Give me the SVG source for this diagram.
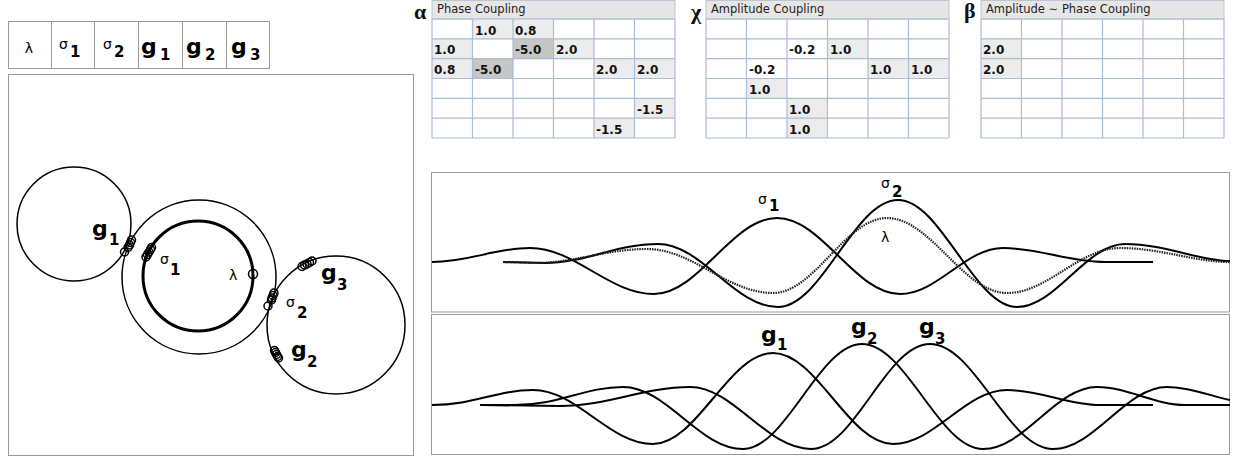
<svg xmlns="http://www.w3.org/2000/svg" width="1233" height="456" viewBox="0 0 1233 456">
<style>
.frame{fill:none;stroke:#999;stroke-width:1}
.lcell{fill:#fff;stroke:#999;stroke-width:1}
.hdr{fill:#e6e6e6;stroke:#bcc6d2;stroke-width:1}
.grid{stroke:#a9bdd6;stroke-width:1.2;fill:none}
.lt{fill:#ececec}
.dk{fill:#c6c6c6}
.ht{font-family:"DejaVu Sans",Verdana,sans-serif;font-size:11.5px;fill:#222}
.cv{font-family:"DejaVu Sans",Verdana,sans-serif;font-size:12px;font-weight:bold;fill:#111}
.gk{font-family:"Liberation Serif","Times New Roman",serif;font-size:22px;font-weight:bold;fill:#111}
.sg{font-family:"DejaVu Sans",Verdana,sans-serif;font-size:14px;fill:#000}
.lam{font-family:"DejaVu Sans",Verdana,sans-serif;font-size:14px;fill:#000}
.sub{font-family:"DejaVu Sans",Verdana,sans-serif;font-size:15px;font-weight:bold;fill:#000}
.gg{font-family:"DejaVu Sans",Verdana,sans-serif;font-size:22px;font-weight:bold;fill:#000}
.circ{fill:none;stroke:#000;stroke-width:1.5}
.thick{fill:none;stroke:#000;stroke-width:3}
.mk{fill:none;stroke:#000;stroke-width:1.5}
.wave{fill:none;stroke:#000;stroke-width:2}
.dot{fill:none;stroke:#222;stroke-width:2.2;stroke-dasharray:1.5 1}
</style>
<rect width="1233" height="456" fill="#fff"/>

<!-- legend cells -->
<g id="legend">
<rect class="lcell" x="8.5" y="21.5" width="43" height="47"/>
<rect class="lcell" x="51.5" y="21.5" width="43" height="47"/>
<rect class="lcell" x="94.5" y="21.5" width="44" height="47"/>
<rect class="lcell" x="138.5" y="21.5" width="44" height="47"/>
<rect class="lcell" x="182.5" y="21.5" width="44" height="47"/>
<rect class="lcell" x="226.5" y="21.5" width="43" height="47"/>
<text class="lam" x="29" y="53" text-anchor="middle" font-size="17">λ</text>
<text class="sg" x="59" y="49" font-size="15">σ</text><text class="sub" x="70" y="57" font-size="18">1</text>
<text class="sg" x="103" y="49" font-size="15">σ</text><text class="sub" x="114" y="57" font-size="18">2</text>
<text class="gg" x="141" y="54" font-size="27">g</text><text class="sub" x="160" y="60" font-size="16">1</text>
<text class="gg" x="186" y="54" font-size="27">g</text><text class="sub" x="205" y="60" font-size="16">2</text>
<text class="gg" x="231" y="54" font-size="27">g</text><text class="sub" x="250" y="60" font-size="16">3</text>
</g>

<!-- left panel -->
<g id="phase-panel">
<rect class="frame" x="8.5" y="74.5" width="405" height="381"/>
<g id="circle-g1"><circle class="circ" cx="74" cy="224" r="57"/></g>
<g id="circle-outer"><circle class="circ" cx="199" cy="277" r="77"/></g>
<g id="circle-inner"><circle class="thick" cx="198" cy="276" r="55"/></g>
<g id="circle-g23"><circle class="circ" cx="336" cy="325" r="69"/></g>
<g id="markers">
<circle class="mk" cx="131.5" cy="240" r="4"/><circle class="mk" cx="130.5" cy="242.5" r="4"/><circle class="mk" cx="129.5" cy="245" r="4"/><circle class="mk" cx="128" cy="247.5" r="4"/><circle class="mk" cx="124.5" cy="252" r="4"/>
<circle class="mk" cx="151.5" cy="247.5" r="4"/><circle class="mk" cx="150.5" cy="249.5" r="4"/><circle class="mk" cx="149" cy="252" r="4"/><circle class="mk" cx="147.5" cy="254.5" r="4"/><circle class="mk" cx="146" cy="257" r="4"/>
<circle class="mk" cx="253" cy="274" r="4.5"/>
<circle class="mk" cx="274" cy="293" r="4"/><circle class="mk" cx="273" cy="295.5" r="4"/><circle class="mk" cx="272" cy="298" r="4"/><circle class="mk" cx="271.5" cy="300" r="4"/><circle class="mk" cx="268" cy="306" r="4"/>
<circle class="mk" cx="302" cy="266.5" r="4"/><circle class="mk" cx="304.5" cy="265" r="4"/><circle class="mk" cx="307" cy="264" r="4"/><circle class="mk" cx="309.5" cy="262.5" r="4"/><circle class="mk" cx="312" cy="261" r="4"/>
<circle class="mk" cx="274.5" cy="350.5" r="4"/><circle class="mk" cx="275.5" cy="352.5" r="4"/><circle class="mk" cx="276.5" cy="354.5" r="4"/><circle class="mk" cx="277.5" cy="356.5" r="4"/><circle class="mk" cx="278.5" cy="358" r="4"/>
</g>
<text class="gg" x="92" y="236">g</text><text class="sub" x="109" y="245">1</text>
<text class="sg" x="160" y="264">σ</text><text class="sub" x="170" y="275">1</text>
<text class="lam" x="229" y="280">λ</text>
<text class="sg" x="286" y="307">σ</text><text class="sub" x="297" y="318">2</text>
<text class="gg" x="321" y="280">g</text><text class="sub" x="337" y="290">3</text>
<text class="gg" x="291" y="357">g</text><text class="sub" x="307" y="367">2</text>
</g>

<!-- tables -->
<g id="table-phase">
<text class="gk" x="414" y="19">α</text>
<rect class="hdr" x="432" y="0.5" width="243" height="18.5"/>
<text class="ht" x="437" y="13">Phase Coupling</text>
<rect class="lt" x="472.5" y="19" width="40.5" height="19.8"/><rect class="lt" x="513" y="19" width="40.5" height="19.8"/>
<rect class="lt" x="432" y="38.8" width="40.5" height="19.9"/><rect class="dk" x="513" y="38.8" width="40.5" height="19.9"/><rect class="lt" x="553.5" y="38.8" width="40.5" height="19.9"/>
<rect class="lt" x="432" y="58.7" width="40.5" height="19.8"/><rect class="dk" x="472.5" y="58.7" width="40.5" height="19.8"/><rect class="lt" x="594" y="58.7" width="40.5" height="19.8"/><rect class="lt" x="634.5" y="58.7" width="40.5" height="19.8"/>
<rect class="lt" x="634.5" y="98.3" width="40.5" height="19.9"/>
<rect class="lt" x="594" y="118.2" width="40.5" height="19.8"/>
<path class="grid" d="M432 19V138M472.5 19V138M513 19V138M553.5 19V138M594 19V138M634.5 19V138M675 19V138M432 19H675M432 38.8H675M432 58.7H675M432 78.5H675M432 98.3H675M432 118.2H675M432 138H675"/>
<text class="cv" x="475" y="34.5">1.0</text><text class="cv" x="515" y="34.5">0.8</text>
<text class="cv" x="434" y="54.3">1.0</text><text class="cv" x="515" y="54.3">-5.0</text><text class="cv" x="556" y="54.3">2.0</text>
<text class="cv" x="434" y="74.2">0.8</text><text class="cv" x="475" y="74.2">-5.0</text><text class="cv" x="596" y="74.2">2.0</text><text class="cv" x="637" y="74.2">2.0</text>
<text class="cv" x="637" y="113.8">-1.5</text>
<text class="cv" x="596" y="133.7">-1.5</text>
</g>

<g id="table-amplitude">
<text class="gk" x="691" y="19">χ</text>
<rect class="hdr" x="706" y="0.5" width="243" height="18.5"/>
<text class="ht" x="711" y="13">Amplitude Coupling</text>
<rect class="lt" x="827.5" y="38.8" width="40.5" height="19.9"/>
<rect class="lt" x="868" y="58.7" width="40.5" height="19.8"/><rect class="lt" x="908.5" y="58.7" width="40.5" height="19.8"/>
<rect class="lt" x="746.5" y="78.5" width="40.5" height="19.8"/>
<rect class="lt" x="787" y="98.3" width="40.5" height="19.9"/>
<rect class="lt" x="787" y="118.2" width="40.5" height="19.8"/>
<path class="grid" d="M706 19V138M746.5 19V138M787 19V138M827.5 19V138M868 19V138M908.5 19V138M949 19V138M706 19H949M706 38.8H949M706 58.7H949M706 78.5H949M706 98.3H949M706 118.2H949M706 138H949"/>
<text class="cv" x="789" y="54.3">-0.2</text><text class="cv" x="830" y="54.3">1.0</text>
<text class="cv" x="749" y="74.2">-0.2</text><text class="cv" x="870" y="74.2">1.0</text><text class="cv" x="911" y="74.2">1.0</text>
<text class="cv" x="749" y="94">1.0</text>
<text class="cv" x="789" y="113.8">1.0</text>
<text class="cv" x="789" y="133.7">1.0</text>
</g>

<g id="table-amp-phase">
<text class="gk" x="964" y="18">β</text>
<rect class="hdr" x="981" y="0.5" width="243" height="18.5"/>
<text class="ht" x="986" y="13">Amplitude ∼ Phase Coupling</text>
<rect class="lt" x="981" y="38.8" width="40.5" height="19.9"/>
<rect class="lt" x="981" y="58.7" width="40.5" height="19.8"/>
<path class="grid" d="M981 19V138M1021.5 19V138M1062 19V138M1102.5 19V138M1143 19V138M1183.5 19V138M1224 19V138M981 19H1224M981 38.8H1224M981 58.7H1224M981 78.5H1224M981 98.3H1224M981 118.2H1224M981 138H1224"/>
<text class="cv" x="983" y="54.3">2.0</text>
<text class="cv" x="983" y="74.2">2.0</text>
</g>

<!-- wave panels -->
<g id="wave-top">
<rect class="frame" x="431.5" y="172.5" width="798" height="139.5"/>
<path class="wave" d="M432 262C470 262 494 248 530 248C575 248 609 294 654 294C699 294 732 218 777 218C822 218 855 294 900 294C937.5 294 965.5 248 1003 248C1040 248 1068 262 1105 262L1153 262"/>
<path class="wave" d="M503 262L545 263C585 263 616 244 658 244C702 244 734 307 778 307C822 307 854 200 898 200C941 200 974 307 1017 307C1056 307 1086 244 1125 244C1165 244 1200 261 1230 261"/>
<path class="dot" d="M503 262L535 263C575 263 605 249 647 249C693 249 727 293 773 293C814.5 293 845.5 218 887 218C931 218 963 293 1007 293C1048 293 1079 248 1120 248C1160 248 1195 262 1230 262"/>
<text class="sg" x="758" y="204">σ</text><text class="sub" x="769" y="211">1</text>
<text class="sg" x="881" y="188">σ</text><text class="sub" x="892" y="197">2</text>
<text class="lam" x="881" y="242">λ</text>
</g>

<g id="wave-bottom">
<rect class="frame" x="431.5" y="314.5" width="798" height="140"/>
<path class="wave" d="M432 405C475 405 496 390 533 390C577 390 609 444 653 444C697 444 729 353 773 353C817 353 849 444 893 444C934.5 444 965.5 390 1007 390C1041 390 1068 405 1100 405L1153 405"/>
<path class="wave" d="M480 405L515 405C560 405 584 387 623 387C667 387 699 449 743 449C786 449 819 344 862 344C906 344 939 449 983 449C1024.5 449 1055.5 387 1097 387C1127 387 1155 405 1185 405L1230 405"/>
<path class="wave" d="M480 405L560 406C608 406 643 387 690 387C734 387 766 449 811 449C855 449 886 344 930 344C975 344 1008 449 1053 449C1094.5 449 1125.5 387 1167 387C1190 387 1214 397 1230 400"/>
<text class="gg" x="761" y="342">g</text><text class="sub" x="777" y="350">1</text>
<text class="gg" x="851" y="334">g</text><text class="sub" x="867" y="344">2</text>
<text class="gg" x="919" y="334">g</text><text class="sub" x="935" y="344">3</text>
</g>
</svg>
